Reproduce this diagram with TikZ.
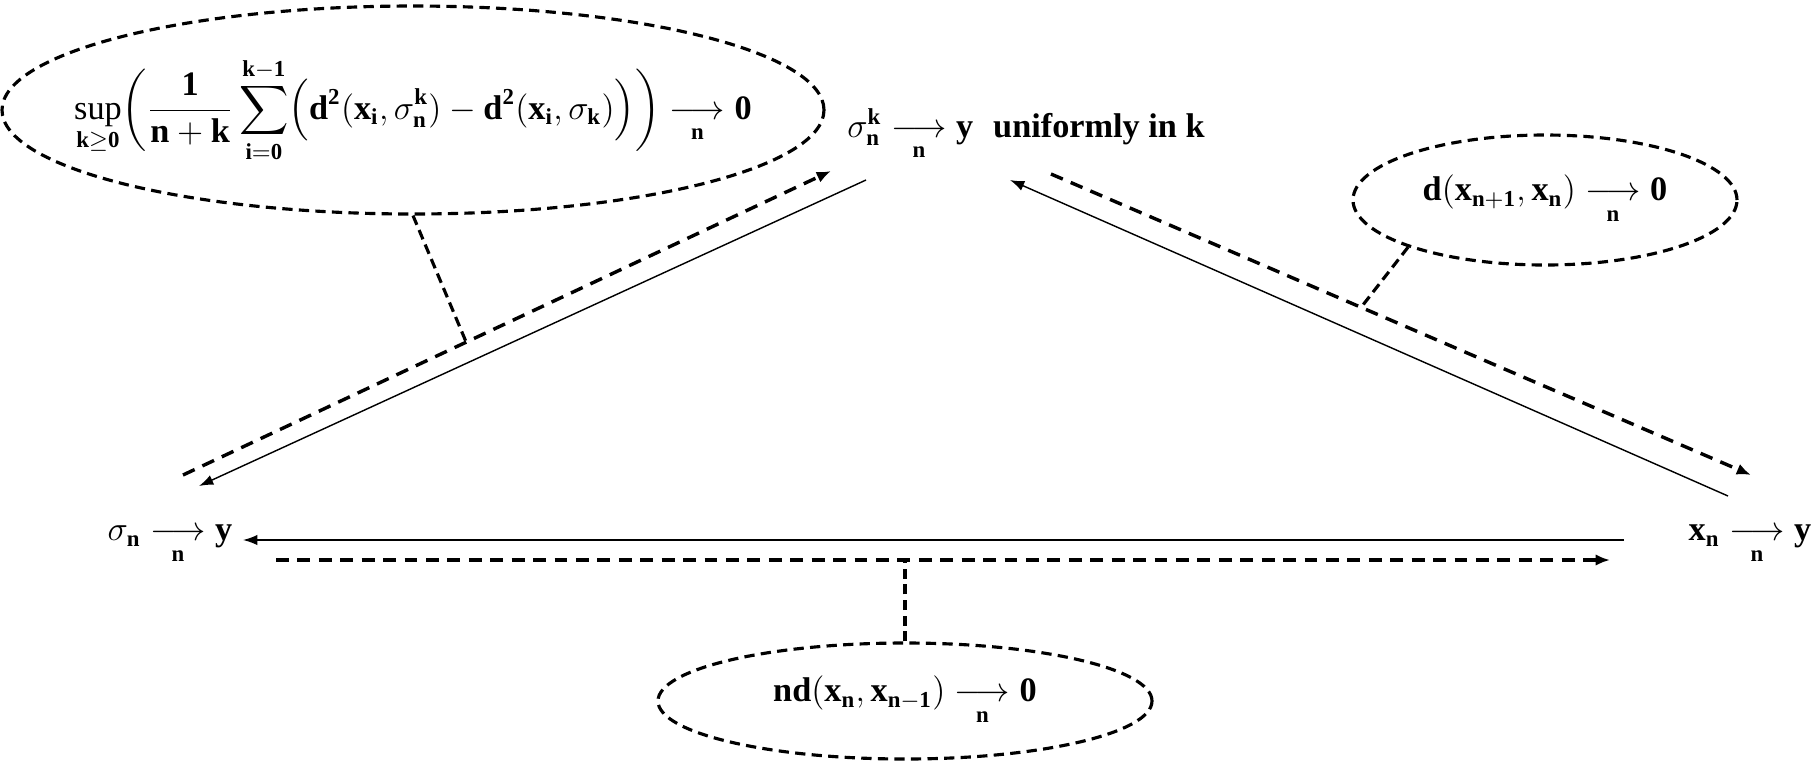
\documentclass[tikz,border=0pt]{standalone}
\usepackage{amsmath}
\usepackage{fontspec}
\setmainfont{Liberation Serif}
\usetikzlibrary{shapes.geometric, arrows.meta, calc, positioning}

\newcommand{\bfx}[1]{\textbf{#1}}
\newcommand{\tolim}{\underset{\bfx{n}}{\longrightarrow}}

\begin{document}
\begin{tikzpicture}[x=0.35pt,y=-0.35pt,
  oval/.style={ellipse,draw,line width=1.1pt,dash pattern=on 3.6pt off 2.2pt,inner sep=0pt},
  limit/.style={font=\fontsize{12}{14}\selectfont,inner sep=1pt},
  flow/.style={line width=0.5pt,-{Latex[length=5pt,width=3.6pt]}},
  hint/.style={line width=1.2pt,dash pattern=on 4.5pt off 3pt,-{Latex[length=5pt,width=4pt]}},
  link/.style={line width=1.1pt,dash pattern=on 3.5pt off 2pt}]
\useasboundingbox (0,0) rectangle (1816,763);

% the three limits
\node[limit] (top) at (1026,135)
  {$\sigma_{\bfx{n}}^{\bfx{k}}\tolim\bfx{y}$\hspace{7pt}\bfx{uniformly in k}};
\node[limit] (sig) at (170,545) {$\sigma_{\bfx{n}}\tolim\bfx{y}$};
\node[limit] (xn) at (1750,545) {$\bfx{x}_{\bfx{n}}\tolim\bfx{y}$};

% the three conditions
\node[oval,minimum width=287.7pt,minimum height=72.8pt] (cesaro) at (413,110) {};
\node[limit] at (cesaro)
  {$\displaystyle\sup_{\bfx{k}\geq\bfx{0}}\biggl(\frac{\bfx{1}}{\bfx{n}+\bfx{k}}
   \sum_{\bfx{i}=\bfx{0}}^{\bfx{k}-\bfx{1}}\Bigl(\bfx{d}^{\bfx{2}}(\bfx{x}_{\bfx{i}},\sigma_{\bfx{n}}^{\bfx{k}})
   -\bfx{d}^{\bfx{2}}(\bfx{x}_{\bfx{i}},\sigma_{\bfx{k}})\Bigr)\biggr)\tolim\bfx{0}$};
\node[oval,minimum width=134.4pt,minimum height=45.5pt] (step) at (1545,200) {};
\node[limit] at (step)
  {$\bfx{d}(\bfx{x}_{\bfx{n}+\bfx{1}},\bfx{x}_{\bfx{n}})\tolim\bfx{0}$};
\node[oval,minimum width=172.9pt,minimum height=40.6pt] (rate) at (905,701) {};
\node[limit] at (rate)
  {$\bfx{nd}(\bfx{x}_{\bfx{n}},\bfx{x}_{\bfx{n}-\bfx{1}})\tolim\bfx{0}$};

% arrow ends
\coordinate (ls1) at (866,180);
\coordinate (ls2) at (199,486);
\coordinate (ld1) at (183,475);
\coordinate (ld2) at (831,171);
\coordinate (rs1) at (1728,496);
\coordinate (rs2) at (1010,180);
\coordinate (rd1) at (1051,174);
\coordinate (rd2) at (1751,475);
\coordinate (hs1) at (1624,540);
\coordinate (hs2) at (243,540);
\coordinate (hd1) at (276,560);
\coordinate (hd2) at (1610,560);

\draw[flow] (ls1) -- (ls2);
\draw[hint] (ld1) -- (ld2);
\draw[flow] (rs1) -- (rs2);
\draw[hint] (rd1) -- (rd2);
\draw[flow] (hs1) -- (hs2);
\draw[hint] (hd1) -- (hd2);

% which condition gives which arrow
\coordinate (lfoot) at ($(ld1)!0.437!(ld2)$);
\coordinate (rfoot) at ($(rd1)!0.443!(rd2)$);
\draw[link] (cesaro.south) -- (lfoot);
\draw[link] (step.south west) -- (rfoot);
\draw[link] (rate.north) -- (rate.north |- hd1);
\end{tikzpicture}
\end{document}
